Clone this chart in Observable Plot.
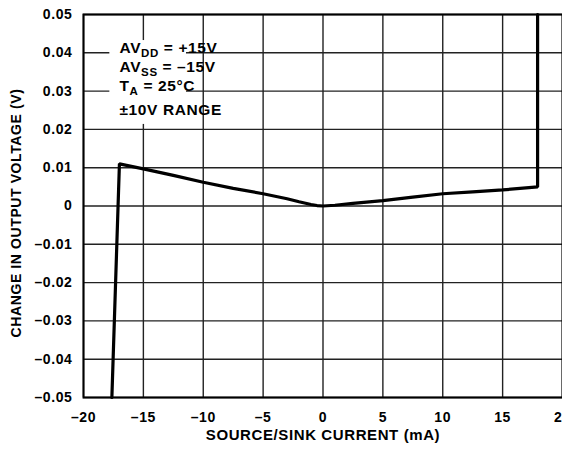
<!DOCTYPE html>
<html>
<head>
<meta charset="utf-8">
<script src="https://cdn.jsdelivr.net/npm/d3@7"></script>
<script src="https://cdn.jsdelivr.net/npm/@observablehq/plot@0.6"></script>
<style>
  html, body { margin: 0; padding: 0; background: white; }
  #chart { width: 562px; height: 450px; overflow: hidden; }
</style>
</head>
<body>
<div id="chart"></div>
<script>
// ---- data ----
const xTicks = [-20, -15, -10, -5, 0, 5, 10, 15, 20];
const xTickLabels = ["–20", "–15", "–10", "–5", "0", "5", "10", "15", "20"];
const yTicks = [-0.05, -0.04, -0.03, -0.02, -0.01, 0, 0.01, 0.02, 0.03, 0.04, 0.05];
const yTickLabels = ["–0.05", "–0.04", "–0.03", "–0.02", "–0.01", "0", "0.01", "0.02", "0.03", "0.04", "0.05"];

const currentMA = [-17.63, -17.0, -15, -12.5, -10, -7.5, -5, -3, -2, -1, -0.5, 0, 1, 2.5, 5, 7.5, 10, 12.5, 15, 17.2, 17.92, 17.92];
const deltaV    = [-0.05, 0.011, 0.0097, 0.0080, 0.0062, 0.0046, 0.0032, 0.0019, 0.0011, 0.0004, 0.00012, 0, 0.0002, 0.0007, 0.0014, 0.0023, 0.0032, 0.0037, 0.0042, 0.0048, 0.0050, 0.05];

const xTitle = "SOURCE/SINK CURRENT (mA)";
const yTitle = "CHANGE IN OUTPUT VOLTAGE (V)";

const annoBase = ["AV", "AV", "T", "±10V RANGE"];
const annoSub  = ["DD", "SS", "A", ""];
const annoRest = [" = +15V", " = –15V", " = 25°C", ""];
const annoY    = [0.0399, 0.0349, 0.0299, 0.0236];
const annoX    = -16.95;
const annoBox  = {x1: -17.8, x2: -11.4, y1: 0.0213, y2: 0.0432};

// ---- build ----
const curve = currentMA.map((x, i) => ({x, y: deltaV[i]}));
const font = "'Liberation Sans', Arial, Helvetica, sans-serif";

const plot = Plot.plot({
  width: 562,
  height: 450,
  marginLeft: 83,
  marginRight: 0,
  marginTop: 14,
  marginBottom: 53,
  style: {fontFamily: font, fontSize: "14px", fontWeight: "bold", letterSpacing: "0.6px", color: "black", background: "white", overflow: "hidden"},
  x: {domain: [-20, 20], ticks: xTicks, tickFormat: d => xTickLabels[xTicks.indexOf(d)], tickSize: 0, tickPadding: 15, label: null},
  y: {domain: [-0.05, 0.05], ticks: yTicks, tickFormat: d => yTickLabels[yTicks.findIndex(t => Math.abs(t - d) < 1e-9)], tickSize: 0, tickPadding: 11, label: null},
  marks: [
    Plot.ruleX(xTicks, {stroke: "#222", strokeWidth: 1.4}),
    Plot.ruleY(yTicks, {stroke: "#222", strokeWidth: 1.4}),
    Plot.rect([annoBox], {x1: "x1", x2: "x2", y1: "y1", y2: "y2", fill: "white"}),
    Plot.line(curve, {x: "x", y: "y", stroke: "black", strokeWidth: 3.2, strokeLinejoin: "miter"}),
    Plot.frame({stroke: "black", strokeWidth: 2}),
    Plot.text([xTitle], {frameAnchor: "bottom", dy: 42.5, text: d => d, fontSize: 15, fontWeight: "bold", fill: "black"}),
    Plot.text([yTitle], {frameAnchor: "left", textAnchor: "middle", rotate: -90, dx: -66.5, dy: 7, text: d => d, fontSize: 14, fontWeight: "bold", fill: "black"})
  ]
});

document.getElementById("chart").appendChild(plot);

// annotation with subscripts, positioned through the plot's scales
const sx = plot.scale("x"), sy = plot.scale("y");
const g = d3.select(plot).append("g")
  .attr("font-family", font).attr("font-weight", "bold").attr("font-size", 15.5)
  .attr("fill", "black").attr("text-anchor", "start");
annoBase.forEach((b, i) => {
  const t = g.append("text").attr("x", sx.apply(annoX)).attr("y", sy.apply(annoY[i]));
  t.append("tspan").text(b);
  if (annoSub[i]) {
    t.append("tspan").attr("font-size", 11.5).attr("dy", 4).text(annoSub[i]);
    t.append("tspan").attr("dy", -4).text(annoRest[i]);
  }
});
</script>
</body>
</html>
